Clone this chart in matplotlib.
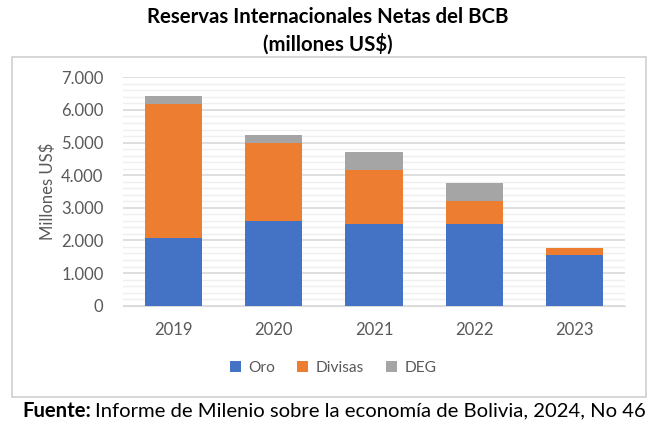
import matplotlib
matplotlib.use("Agg")
import matplotlib.pyplot as plt
from matplotlib.patches import Rectangle
from matplotlib.ticker import MultipleLocator, FuncFormatter
import numpy as np

years = ["2019", "2020", "2021", "2022", "2023"]
oro = [2070, 2590, 2500, 2500, 1555]
divisas = [4120, 2400, 1660, 720, 205]
deg = [240, 250, 550, 540, 0]
series_names = ["Oro", "Divisas", "DEG"]
colors = ["#4472C4", "#ED7D31", "#A5A5A5"]

plt.rcParams['font.family'] = ['Lato', 'DejaVu Sans']

W, H = 656, 428
fig = plt.figure(figsize=(W/100, H/100), dpi=100)

# outer frame
fig.patches.append(Rectangle((12/W, 1-397/H), (646-12)/W, (397-57)/H, transform=fig.transFigure,
                             fill=False, edgecolor="#d0d0d0", linewidth=1.2))

ax = fig.add_axes([123/W, 1-305.7/H, (625-123)/W, (305.7-77.3)/H])
x = np.arange(len(years))
w = 0.57
b1 = ax.bar(x, oro, w, color=colors[0], label=series_names[0], zorder=3)
b2 = ax.bar(x, divisas, w, bottom=oro, color=colors[1], label=series_names[1], zorder=3)
bottom3 = [a + b for a, b in zip(oro, divisas)]
b3 = ax.bar(x, deg, w, bottom=bottom3, color=colors[2], label=series_names[2], zorder=3)

ax.set_xlim(-0.5, 4.5)
ax.set_ylim(0, 7000)
ax.yaxis.set_major_locator(MultipleLocator(1000))
ax.yaxis.set_minor_locator(MultipleLocator(200))
ax.yaxis.set_major_formatter(FuncFormatter(lambda v, p: f"{int(v):,}".replace(",", ".")))
ax.grid(axis='y', which='major', color="#d9d9d9", linewidth=1.2, zorder=0)
ax.grid(axis='y', which='minor', color="#efefef", linewidth=1.0, zorder=0)
ax.set_xticks(x)
ax.set_xticklabels(years)
for s in ["top", "right", "left"]:
    ax.spines[s].set_visible(False)
ax.spines["bottom"].set_color("#d9d9d9")
ax.tick_params(axis='both', which='both', length=0, labelsize=12, colors="#595959")
ax.tick_params(axis='x', pad=12)
ax.tick_params(axis='y', pad=14)
ax.set_ylabel("Millones US$", fontsize=12, color="#595959", labelpad=4)

fig.legend(handles=[b1, b2, b3], labels=series_names, loc="center", bbox_to_anchor=(333/W, 1-368/H),
           ncol=3, frameon=False, fontsize=11.2, handlelength=0.7, handleheight=0.7,
           columnspacing=1.4, handletextpad=0.5, labelcolor="#595959")

fig.text(0.5, 1-17/H, "Reservas Internacionales Netas del BCB", ha="center", va="center",
         fontsize=14.7, fontweight="bold", color="black")
fig.text(0.5, 1-44/H, "(millones US$)", ha="center", va="center",
         fontsize=14.7, fontweight="bold", color="black")

t1 = fig.text(22/W, 1-411/H, "Fuente:", ha="left", va="center", fontsize=14.6, fontweight="bold")
fig.canvas.draw()
bb = t1.get_window_extent()
fig.text(bb.x1/W + 4/W, 1-411/H, "Informe de Milenio sobre la economía de Bolivia, 2024, No 46",
         ha="left", va="center", fontsize=14.6)

fig.savefig("out.png", dpi=100)
